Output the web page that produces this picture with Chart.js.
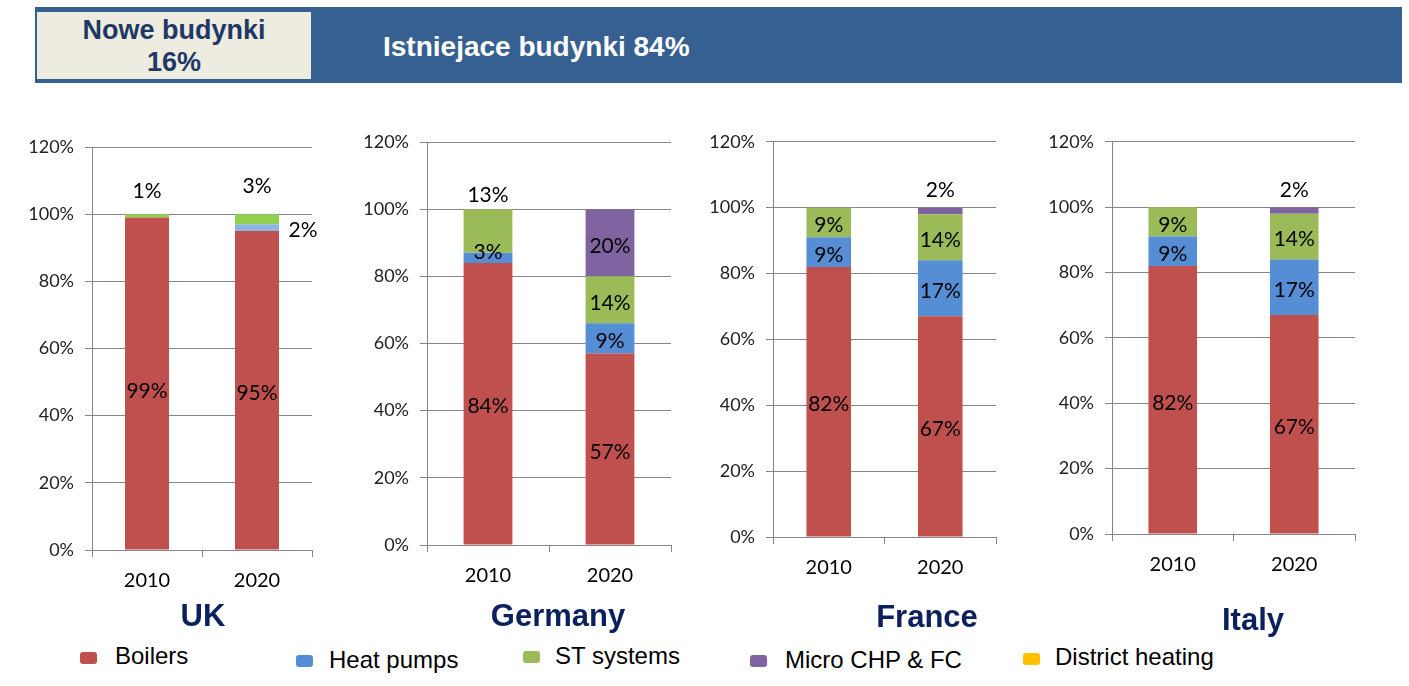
<!DOCTYPE html>
<html>
<head>
<meta charset="utf-8">
<script src="https://cdn.jsdelivr.net/npm/chart.js@4.4.0/dist/chart.umd.min.js"></script>
<style>
  body { margin: 0; background: #fff; width: 1409px; height: 686px; position: relative; overflow: hidden; font-family: "Liberation Sans", Arial, sans-serif; }
  .abs { position: absolute; }
  #banner { left: 35px; top: 7px; width: 1367px; height: 76px; background: #376092; }
  #nowe { left: 37px; top: 12px; width: 274px; height: 67px; background: #EEECE1; }
  .nowe-line { position: absolute; left: 0; width: 274px; text-align: center; font-weight: bold; font-size: 27px; line-height: 32px; color: #1F3864; }
  #istn { left: 383px; top: 30px; font-weight: bold; font-size: 28px; line-height: 33px; color: #fff; white-space: nowrap; }
  .title { position: absolute; width: 240px; text-align: center; font-weight: bold; font-size: 31px; line-height: 30px; color: #0B215E; }
  .leg-box { position: absolute; width: 17px; height: 12px; border-radius: 3px; }
  .leg-text { position: absolute; font-size: 24px; line-height: 24px; color: #000; white-space: nowrap; }
  canvas { position: absolute; }
</style>
</head>
<body>
<div id="banner" class="abs"></div>
<div id="nowe" class="abs">
  <div class="nowe-line" style="top:2px">Nowe budynki</div>
  <div class="nowe-line" style="top:34px">16%</div>
</div>
<div id="istn" class="abs">Istniejace budynki 84%</div>

<canvas id="chartUK" width="320" height="480" style="left:20px;top:120px"></canvas>
<canvas id="chartDE" width="350" height="480" style="left:350px;top:120px"></canvas>
<canvas id="chartFR" width="330" height="480" style="left:700px;top:120px"></canvas>
<canvas id="chartIT" width="379" height="480" style="left:1030px;top:120px"></canvas>

<div class="title" style="left:83px;top:601px">UK</div>
<div class="title" style="left:438px;top:601px">Germany</div>
<div class="title" style="left:807px;top:602px">France</div>
<div class="title" style="left:1133px;top:605px">Italy</div>

<div id="legend"></div>

<script>
// dane
const years = ['2010', '2020'];
const seriesNames = ['Boilers', 'Heat pumps', 'ST systems', 'Micro CHP & FC', 'District heating'];
const seriesColors = ['#C0504D', '#558ED5', '#9BBB59', '#8064A2', '#FFC000'];
const yTicks = [0, 20, 40, 60, 80, 100, 120];

const ukBoilers = [99, 95];
const ukHeatPumps = [0, 2];
const ukST = [1, 3];
const ukMicro = [0, 0];

const deBoilers = [84, 57];
const deHeatPumps = [3, 9];
const deST = [13, 14];
const deMicro = [0, 20];

const frBoilers = [82, 67];
const frHeatPumps = [9, 17];
const frST = [9, 14];
const frMicro = [0, 2];

const itBoilers = [82, 67];
const itHeatPumps = [9, 17];
const itST = [9, 14];
const itMicro = [0, 2];

// legenda (HTML, bo pozycje sa nieregularne)
const legendPos = [
    { bx: 80, by: 652, tx: 115, ty: 644 },
    { bx: 296, by: 655, tx: 329, ty: 648 },
    { bx: 523, by: 651, tx: 555, ty: 644 },
    { bx: 750, by: 655, tx: 785, ty: 648 },
    { bx: 1023, by: 653, tx: 1055, ty: 645 }
];
const legendEl = document.getElementById('legend');
seriesNames.forEach((name, i) => {
    const p = legendPos[i];
    legendEl.insertAdjacentHTML('beforeend',
        `<div class="leg-box" style="left:${p.bx}px;top:${p.by}px;background:${seriesColors[i]}"></div>` +
        `<div class="leg-text" style="left:${p.tx}px;top:${p.ty}px">${name}</div>`);
});

// etykiety na slupkach
const segLabels = {
    id: 'segLabels',
    afterDatasetsDraw(chart, args, opts) {
        const ctx = chart.ctx;
        ctx.save();
        ctx.font = '21px Lato';
        ctx.fillStyle = '#000';
        ctx.textAlign = 'center';
        ctx.textBaseline = 'middle';
        chart.data.datasets.forEach((ds, di) => {
            const meta = chart.getDatasetMeta(di);
            meta.data.forEach((el, i) => {
                const v = ds.data[i];
                if (!v) return;
                const place = (opts.place || []).find(p => p.ds === di && p.i === i);
                let x = el.x;
                let y = (el.y + el.base) / 2 + 3;
                if (place) {
                    if (place.pos === 'above') y = el.y + place.dy;
                    if (place.pos === 'right') { x = el.x + el.width / 2 + 24; }
                    if (place.pos === 'center') y += place.dy;
                }
                ctx.fillText(v + '%', x, y);
            });
        });
        ctx.restore();
    }
};

function makeChart(id, boilers, heatPumps, st, micro, colors, axisW, padTop, padRight, xH, place) {
    const ctx = document.getElementById(id).getContext('2d');
    return new Chart(ctx, {
        type: 'bar',
        data: {
            labels: years,
            datasets: [
                { label: seriesNames[0], data: boilers, backgroundColor: colors[0] },
                { label: seriesNames[1], data: heatPumps, backgroundColor: colors[1] },
                { label: seriesNames[2], data: st, backgroundColor: colors[2] },
                { label: seriesNames[3], data: micro, backgroundColor: colors[3] }
            ]
        },
        options: {
            responsive: false,
            animation: false,
            barPercentage: 0.4,
            categoryPercentage: 1,
            layout: { padding: { top: padTop, right: padRight, left: 0, bottom: 0 } },
            plugins: {
                legend: { display: false },
                tooltip: { enabled: false },
                segLabels: { place: place }
            },
            scales: {
                x: {
                    stacked: true,
                    afterFit: s => { s.height = xH; },
                    grid: { drawOnChartArea: false, drawTicks: true, tickLength: 7, color: '#868686', offset: true },
                    border: { color: '#868686' },
                    ticks: { color: '#000', font: { family: 'Lato', size: 20 }, padding: 12 }
                },
                y: {
                    stacked: true,
                    min: 0,
                    max: 120,
                    afterFit: s => { s.width = axisW; },
                    afterBuildTicks: s => { s.ticks = yTicks.map(v => ({ value: v })); },
                    grid: { color: '#868686', tickLength: 7 },
                    border: { color: '#868686' },
                    ticks: { color: '#222', font: { family: 'Lato', size: 18 }, padding: 11, callback: v => v + '%' }
                }
            }
        },
        plugins: [segLabels]
    });
}

const ukColors = ['#C0504D', '#8DB4E2', '#92D050', '#8064A2'];

makeChart('chartUK', ukBoilers, ukHeatPumps, ukST, ukMicro, ukColors, 72, 27, 28, 50,
    [{ ds: 0, i: 0, pos: 'center', dy: 5 }, { ds: 2, i: 0, pos: 'above', dy: -23 }, { ds: 2, i: 1, pos: 'above', dy: -28 }, { ds: 1, i: 1, pos: 'right' }]);
makeChart('chartDE', deBoilers, deHeatPumps, deST, deMicro, seriesColors, 77, 22, 29, 55,
    [{ ds: 2, i: 0, pos: 'above', dy: -14 }, { ds: 1, i: 0, pos: 'center', dy: -9 }]);
makeChart('chartFR', frBoilers, frHeatPumps, frST, frMicro, seriesColors, 73, 20, 34, 63,
    [{ ds: 3, i: 1, pos: 'above', dy: -17 }]);
makeChart('chartIT', itBoilers, itHeatPumps, itST, itMicro, seriesColors, 82, 21, 54, 66,
    [{ ds: 3, i: 1, pos: 'above', dy: -17 }]);
</script>
</body>
</html>
